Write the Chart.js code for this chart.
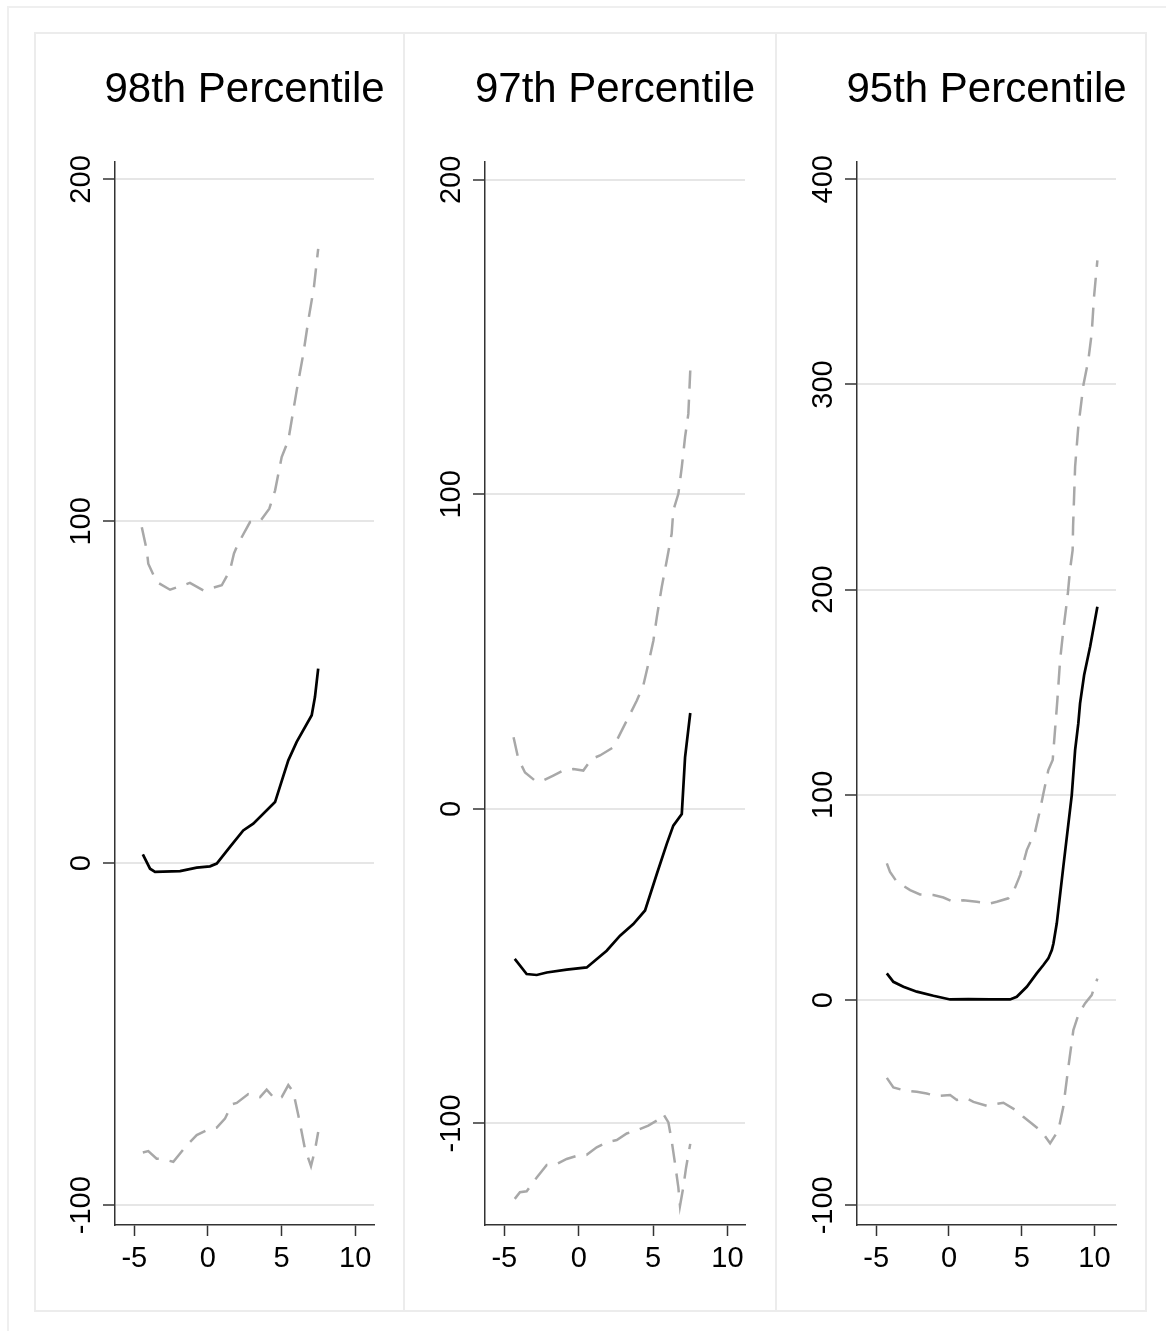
<!DOCTYPE html>
<html>
<head>
<meta charset="utf-8">
<script src="https://cdn.jsdelivr.net/npm/chart.js@4.4.1/dist/chart.umd.min.js"></script>
<style>
  body { margin: 0; background: #fff; }
  #page { position: relative; width: 1166px; height: 1331px; overflow: hidden; }
  .outer { position: absolute; left: 7px; top: 6px; width: 1170px; height: 1340px; border: 2px solid #efefef; box-sizing: border-box; }
  .box { position: absolute; top: 32px; height: 1280px; border: 2px solid #ececec; box-sizing: border-box; }
  canvas { position: absolute; top: 33px; }
</style>
</head>
<body>
<div id="page">
  <div class="outer"></div>
  <div class="box" style="left:34px;width:371px"></div>
  <div class="box" style="left:403px;width:374px"></div>
  <div class="box" style="left:775px;width:372px"></div>
  <canvas id="c98" width="368" height="1278" style="left:35px"></canvas>
  <canvas id="c97" width="371" height="1278" style="left:404px"></canvas>
  <canvas id="c95" width="369" height="1278" style="left:776px"></canvas>
</div>
<script>
"use strict";

const fontFamily = "'Liberation Sans', Arial, sans-serif";
const xTicks = [-5, 0, 5, 10];

// 98th percentile
const p98Title = "98th Percentile";
const p98YTicks = [-100, 0, 100, 200];
const p98Mid = [[-4.42, 2.6], [-3.93, -1.6], [-3.59, -2.5], [-1.89, -2.3], [-0.76, -1.3], [0.14, -0.9], [0.6, -0.1],
  [1.5, 4.8], [2.4, 9.6], [3.08, 11.6], [4.56, 17.9], [5.46, 30.1], [6.03, 35.5], [7.05, 43.3], [7.27, 48.6], [7.49, 56.9]];
const p98Up = [[-4.49, 98.3], [-4.15, 91.5], [-4.05, 87.6], [-3.48, 82.3], [-2.57, 80.0], [-1.22, 82.0], [-0.31, 79.8],
  [0.94, 81.3], [1.5, 85.7], [1.77, 90.6], [2.06, 93.5], [2.86, 99.8], [3.54, 100], [4.17, 103.7], [4.56, 109],
  [5.01, 118.8], [5.46, 123.7], [6.03, 138.3], [6.48, 149], [6.82, 158.8], [7.2, 168.5], [7.49, 179.7]];
const p98Low = [[-4.42, -84.6], [-4.05, -84.2], [-3.48, -86.4], [-3.14, -86.5], [-2.35, -87.3], [-1.44, -82.5],
  [-0.76, -79.5], [-0.08, -78.1], [0.6, -77.3], [1.16, -74.7], [1.62, -70.5], [1.96, -70.1], [2.74, -67.5],
  [3.54, -68.4], [3.99, -66.2], [4.56, -69.0], [5.01, -68.4], [5.46, -64.9], [5.8, -66.9], [6.14, -73.7],
  [6.59, -83.5], [7.0, -88.6], [7.27, -83.9], [7.49, -78.6]];

// 97th percentile
const p97Title = "97th Percentile";
const p97YTicks = [-100, 0, 100, 200];
const p97Mid = [[-4.3, -47.7], [-3.5, -52.5], [-2.82, -52.8], [-2.15, -52.0], [-0.81, -51.1], [0.54, -50.4],
  [1.88, -45.1], [2.78, -40.3], [3.67, -36.6], [4.46, -32.3], [5.25, -20.7], [5.92, -11.1], [6.36, -5.3],
  [6.93, -1.6], [7.15, 16.4], [7.5, 30.5]];
const p97Up = [[-4.38, 22.8], [-4.06, 15.9], [-3.61, 11.6], [-2.94, 9.0], [-2.49, 8.8], [-1.71, 10.6], [-1.04, 12.2],
  [-0.36, 12.7], [0.31, 12.2], [0.87, 15.9], [1.43, 17.0], [2.33, 19.6], [2.89, 24.9], [3.34, 29.1], [3.9, 34.4],
  [4.34, 39.2], [4.68, 46.1], [5.02, 53.5], [5.25, 60.9], [5.58, 70.5], [5.92, 79.0], [6.25, 87.5], [6.36, 94.9],
  [6.7, 100.2], [6.93, 108.7], [7.15, 118.2], [7.37, 125.6], [7.44, 133.0], [7.5, 139.4]];
const p97Low = [[-4.3, -124.0], [-3.95, -121.9], [-3.5, -121.6], [-2.82, -117.2], [-2.15, -113.2], [-1.59, -113.2],
  [-0.81, -111.3], [-0.13, -110.3], [0.54, -110.0], [1.21, -107.6], [1.88, -106.0], [2.56, -105.3], [3.23, -103.2],
  [4.01, -102.0], [4.68, -100.7], [5.25, -99.1], [5.69, -97.0], [6.03, -99.7], [6.25, -105.5], [6.48, -112.9],
  [6.7, -120.4], [6.81, -126.2], [7.03, -120.4], [7.22, -114.0], [7.5, -106.5]];

// 95th percentile
const p95Title = "95th Percentile";
const p95YTicks = [-100, 0, 100, 200, 300, 400];
const p95Mid = [[-4.27, 13.0], [-3.82, 8.9], [-3.13, 6.5], [-2.21, 4.1], [-1.07, 2.1], [0.08, 0.3], [1.33, 0.5],
  [2.82, 0.3], [4.2, 0.3], [4.66, 1.6], [5.35, 6.5], [6.03, 13.0], [6.49, 17.1], [6.83, 20.3], [7.07, 24.4],
  [7.18, 27.6], [7.41, 37.4], [7.86, 65.0], [8.44, 99.9], [8.67, 121.8], [8.89, 134.8], [9.01, 144.6],
  [9.29, 158.4], [9.7, 172.2], [10.2, 191.7]];
const p95Up = [[-4.27, 66.6], [-4.05, 62.5], [-3.59, 57.7], [-2.67, 53.6], [-1.99, 51.5], [-1.07, 51.2], [-0.38, 50.0],
  [0.3, 47.9], [0.99, 48.7], [1.91, 47.9], [2.82, 47.1], [3.29, 47.9], [4.08, 49.6], [4.43, 52.8], [4.89, 60.9],
  [5.35, 73.1], [5.92, 82.0], [6.26, 92.6], [6.49, 100.7], [6.83, 112.1], [7.13, 117], [7.29, 131.6], [7.45, 146.2],
  [7.64, 165.7], [7.86, 180.3], [8.16, 197.4], [8.32, 209.6], [8.5, 219.3], [8.53, 230.7], [8.67, 259.9],
  [8.89, 279.4], [9.24, 299.7], [9.58, 311.9], [9.81, 324.9], [9.97, 342.7], [10.2, 360.5]];
const p95Low = [[-4.27, -37.9], [-3.82, -42.6], [-3.13, -43.9], [-2.21, -44.7], [-1.53, -45.5], [-0.84, -46.8],
  [0.08, -46.3], [0.54, -48.7], [1.22, -47.9], [1.68, -49.6], [2.6, -51.5], [3.74, -50.0], [4.66, -53.9],
  [5.11, -56.9], [5.69, -60.1], [6.38, -64.2], [6.95, -69.8], [7.52, -63.4], [7.86, -52.0], [8.21, -32.5],
  [8.55, -14.6], [8.89, -7.3], [9.35, -1.6], [9.81, 2.4], [10.2, 10.5]];

function toPoints(list) {
  return list.map(p => ({ x: p[0], y: p[1] }));
}

// rotated y tick labels and the panel title, placed from the chart's own scales
const panelText = {
  id: "panelText",
  afterDraw(chart, args, opts) {
    const ctx = chart.ctx;
    const area = chart.chartArea;
    ctx.save();
    ctx.fillStyle = "#000";
    ctx.font = "29px " + fontFamily;
    ctx.textAlign = "center";
    ctx.textBaseline = "alphabetic";
    opts.yTicks.forEach(v => {
      const y = chart.scales.y.getPixelForValue(v);
      ctx.save();
      ctx.translate(area.left - 25, y);
      ctx.rotate(-Math.PI / 2);
      ctx.fillText(String(v), 0, 0);
      ctx.restore();
    });
    ctx.font = "42px " + fontFamily;
    ctx.textBaseline = "middle";
    ctx.fillText(opts.title, (area.left + area.right) / 2, 57);
    ctx.restore();
  },
};

function makePanel(id, title, yTicks, mid, up, low, xMin, xMax, yMin, yMax, leftW, rightPad) {
  const dashed = { borderColor: "#a8a8a8", borderWidth: 2.5, borderDash: [19, 11], pointRadius: 0, tension: 0, fill: false };
  const config = {
    type: "line",
    data: {
      datasets: [
        Object.assign({ label: "upper", data: toPoints(up) }, dashed),
        Object.assign({ label: "lower", data: toPoints(low) }, dashed),
        { label: "estimate", data: toPoints(mid), borderColor: "#000", borderWidth: 2.7, pointRadius: 0, tension: 0, fill: false },
      ],
    },
    options: {
      responsive: false,
      animation: false,
      layout: { padding: { top: 129, right: rightPad, left: 0, bottom: 0 } },
      plugins: {
        legend: { display: false },
        tooltip: { enabled: false },
        panelText: { title: title, yTicks: yTicks },
      },
      scales: {
        x: {
          type: "linear",
          min: xMin,
          max: xMax,
          afterBuildTicks: s => { s.ticks = xTicks.map(v => ({ value: v })); },
          afterFit: s => { s.height = 86; },
          ticks: {
            color: "#000",
            font: { family: fontFamily, size: 29 },
            padding: 6,
            maxRotation: 0,
            autoSkip: false,
            callback: v => String(v),
          },
          grid: { drawOnChartArea: false, tickColor: "#333", tickLength: 11, tickWidth: 1.5 },
          border: { color: "#333", width: 1.5 },
        },
        y: {
          type: "linear",
          min: yMin,
          max: yMax,
          afterBuildTicks: s => { s.ticks = yTicks.map(v => ({ value: v })); },
          afterFit: s => { s.width = leftW; },
          ticks: { display: false },
          grid: { color: "#e6e6e6", lineWidth: 2, tickColor: "#333", tickLength: 12, tickWidth: 1.5 },
          border: { color: "#333", width: 1.5 },
        },
      },
    },
    plugins: [panelText],
  };
  return new Chart(document.getElementById(id), config);
}

makePanel("c98", p98Title, p98YTicks, p98Mid, p98Up, p98Low, -6.31, 11.28, -105.8, 205.1, 80, 29);
makePanel("c97", p97Title, p97YTicks, p97Mid, p97Up, p97Low, -6.3, 11.18, -132.3, 205.7, 81, 30);
makePanel("c95", p95Title, p95YTicks, p95Mid, p95Up, p95Low, -6.32, 11.48, -109.6, 408.4, 81, 29);
</script>
</body>
</html>
